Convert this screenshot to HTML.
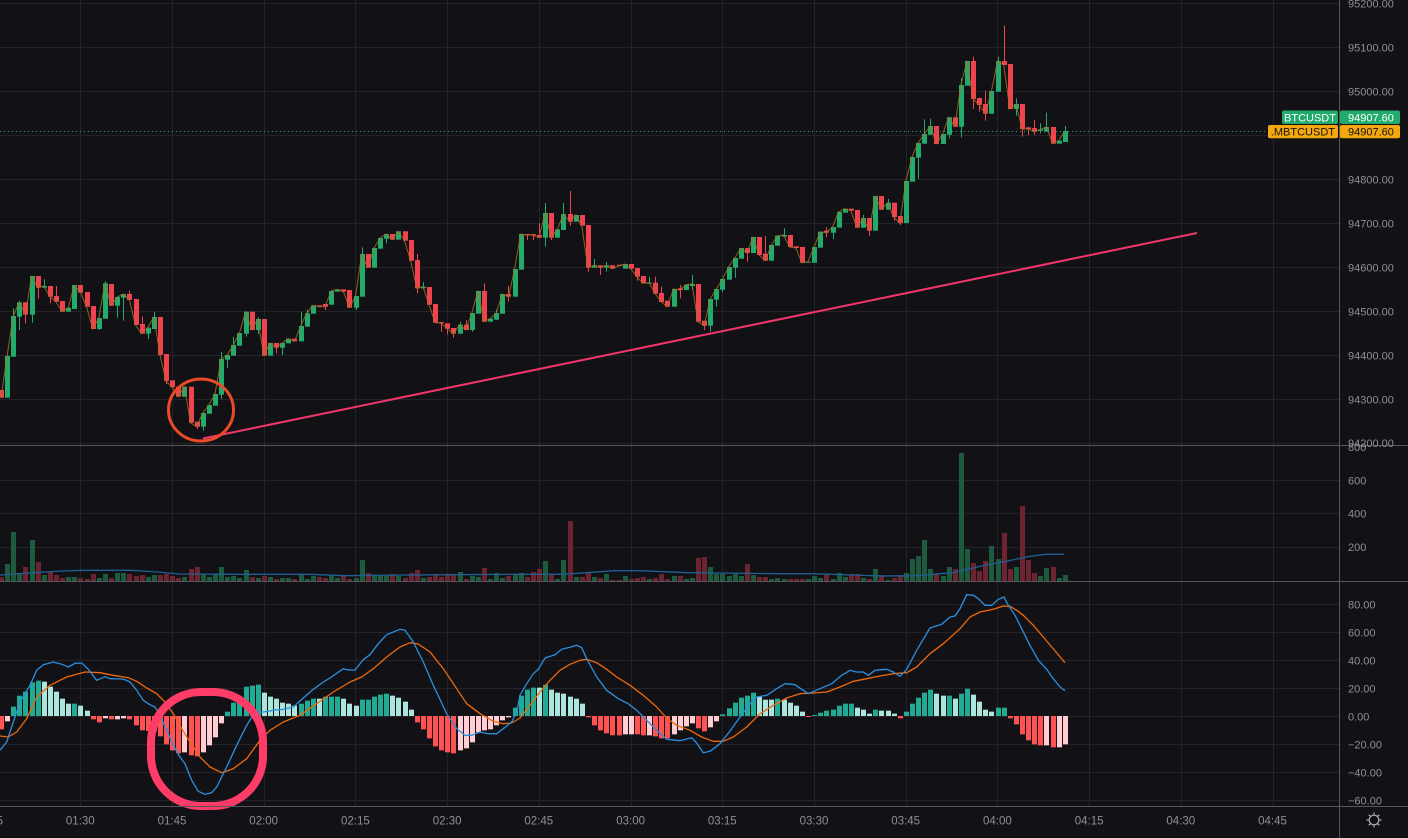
<!DOCTYPE html>
<html>
<head>
<meta charset="utf-8">
<style>
html,body{margin:0;padding:0;background:#121216;}
body{width:1408px;height:838px;overflow:hidden;}
svg{display:block;}
text{font-family:"Liberation Sans",sans-serif;}
</style>
</head>
<body>
<svg id="s" width="1408" height="838" viewBox="0 0 1408 838" xmlns="http://www.w3.org/2000/svg">
<defs>
<clipPath id="cp"><rect x="0" y="0" width="1339" height="445"/></clipPath>
<clipPath id="cv"><rect x="0" y="446" width="1339" height="135"/></clipPath>
<clipPath id="cm"><rect x="0" y="582" width="1339" height="224"/></clipPath>
</defs>
<rect x="0" y="0" width="1408" height="838" fill="#121216"/>
<g id="grid" stroke="#242428" stroke-width="1" fill="none">
<path d="M0 3.5H1339M0 47.5H1339M0 91.5H1339M0 135.5H1339M0 179.5H1339M0 223.5H1339M0 267.5H1339M0 311.5H1339M0 355.5H1339M0 399.5H1339M0 443.5H1339"/>
<path d="M0 480.5H1339M0 513.5H1339M0 547.5H1339"/>
<path d="M0 604.5H1339M0 632.5H1339M0 660.5H1339M0 688.5H1339M0 716.5H1339M0 744.5H1339M0 772.5H1339M0 800.5H1339"/>
</g>
<g id="vgrid" stroke="#242428" stroke-width="1"></g>
<g id="vol" clip-path="url(#cv)"></g>
<g id="hist" clip-path="url(#cm)"></g>
<g id="macd" clip-path="url(#cm)"></g>
<g id="cand" clip-path="url(#cp)"></g>
<!-- last price dotted line -->
<line x1="0" y1="131.5" x2="1339" y2="131.5" stroke="#23a86b" stroke-width="1" stroke-dasharray="1 3"/>
<!-- trendline -->
<line x1="203" y1="438.5" x2="1197" y2="233" stroke="#f2366b" stroke-width="2"/>
<!-- circles -->
<ellipse cx="201" cy="410" rx="32.5" ry="31" fill="none" stroke="#ec4a26" stroke-width="3"/>
<rect x="151" y="692" width="112" height="114" rx="50" ry="50" fill="none" stroke="#ff3c68" stroke-width="8"/>
<!-- separators -->
<g stroke="#56565c" stroke-width="1">
<line x1="0" y1="445.5" x2="1408" y2="445.5"/>
<line x1="0" y1="581.5" x2="1408" y2="581.5"/>
<line x1="0" y1="806.5" x2="1408" y2="806.5"/>
<line x1="1339.5" y1="0" x2="1339.5" y2="838"/>
</g>
<!-- price axis labels -->
<g font-size="11" fill="#8f8f94">
<text x="1348" y="7.5">95200.00</text>
<text x="1348" y="51.5">95100.00</text>
<text x="1348" y="95.5">95000.00</text>
<text x="1348" y="183.5">94800.00</text>
<text x="1348" y="227.5">94700.00</text>
<text x="1348" y="271.5">94600.00</text>
<text x="1348" y="315.5">94500.00</text>
<text x="1348" y="359.5">94400.00</text>
<text x="1348" y="403.5">94300.00</text>
<text x="1348" y="447">94200.00</text>
<text x="1348" y="451">800</text>
<text x="1348" y="484.5">600</text>
<text x="1348" y="517.5">400</text>
<text x="1348" y="551">200</text>
<text x="1348" y="608.5">80.00</text>
<text x="1348" y="636.5">60.00</text>
<text x="1348" y="664.5">40.00</text>
<text x="1348" y="692.5">20.00</text>
<text x="1348" y="720.5">0.00</text>
<text x="1348" y="748.5">−20.00</text>
<text x="1348" y="776.5">−40.00</text>
<text x="1348" y="804.5">−60.00</text>
</g>
<!-- price labels -->
<rect x="1282" y="110.5" width="56" height="13.5" rx="2" fill="#22ab6d"/>
<text x="1310" y="121.3" font-size="11" fill="#ffffff" text-anchor="middle">BTCUSDT</text>
<rect x="1340" y="110.5" width="60" height="13.5" rx="2" fill="#22ab6d"/>
<text x="1348" y="121.3" font-size="11" fill="#ffffff">94907.60</text>
<rect x="1268" y="125" width="70" height="13.3" rx="2" fill="#f5a70f"/>
<text x="1335" y="135.7" font-size="11" fill="#16130c" text-anchor="end">.MBTCUSDT</text>
<rect x="1340" y="125" width="60" height="13.3" rx="2" fill="#f5a70f"/>
<text x="1348" y="135.7" font-size="11" fill="#16130c">94907.60</text>
<!-- time axis -->
<g font-size="11.5" fill="#8f8f94" text-anchor="middle">
<text x="-11.4" y="824.5">01:15</text>
<text x="80.3" y="824.5">01:30</text>
<text x="172" y="824.5">01:45</text>
<text x="263.7" y="824.5">02:00</text>
<text x="355.4" y="824.5">02:15</text>
<text x="447.1" y="824.5">02:30</text>
<text x="538.8" y="824.5">02:45</text>
<text x="630.6" y="824.5">03:00</text>
<text x="722.3" y="824.5">03:15</text>
<text x="814" y="824.5">03:30</text>
<text x="905.7" y="824.5">03:45</text>
<text x="997.4" y="824.5">04:00</text>
<text x="1089.1" y="824.5">04:15</text>
<text x="1180.8" y="824.5">04:30</text>
<text x="1272.5" y="824.5">04:45</text>
</g>
<!-- gear -->
<g stroke="#b0b0b5" stroke-width="1.2" fill="none">
<circle cx="1374" cy="820" r="4.8"/>
<path d="M1374 812.5V814.5M1374 825.5V827.5M1366.5 820H1368.5M1379.5 820H1381.5M1368.7 814.7L1370.1 816.1M1377.9 823.9L1379.3 825.3M1368.7 825.3L1370.1 823.9M1377.9 816.1L1379.3 814.7"/>
</g>
</svg>
<script>
(function(){
var NS='http://www.w3.org/2000/svg';
function el(t,a,p){var e=document.createElementNS(NS,t);for(var k in a)e.setAttribute(k,a[k]);p.appendChild(e);return e;}
var vg=document.getElementById('vgrid');
for(var k=-1;k<=13;k++){var x=80.3+91.71*k;var xx=Math.round(x)+0.5;el('line',{x1:xx,y1:0,x2:xx,y2:806},vg);}
function cx(i){return 1+6.114*i;}
var K=[
[0,390,397.7],[1,356,397.7],[1,316,356.7,308.3],[1,302.3,316.7,300.7,330],[0,302.3,314.7,302.3,323.3],
[1,276,314.7,276,322.7],[0,276,287.7,276,298.7],[1,286,287.7,279.3],[0,286,296.7,286,303.3],[0,296,301.7,286],
[0,301,311.7],[1,307.7,311.7],[1,285,309],[0,285,292.7],[0,292,306.7],
[0,306,329],[1,318,329,318,330],[1,283.3,318.7,281],[0,284,305.7],[1,297,305.7,297,317.7],
[1,294,297.7,294,320.7],[0,294,300,290.7],[0,299,325],[0,324,333.7,316.7],[1,327.7,333.7,327.7,339],
[1,317,329,312],[0,317,355],[0,354,381,354,384],[0,380.3,387.3],[0,386.7,396.7],
[1,386.7,396.7],[0,386.7,422.7],[0,421.7,426.7,421.7,429],[1,413,426.7,413,430.7],[1,405,413.7],
[1,394,405.7],[1,359,394.7,351.7,399],[1,355,359.7,355,367.7],[1,345,355.7,336.7],[1,333,345.7],
[1,311.7,333.7,311.7,336.7],[0,311.7,330],[1,319,330,317.3,334.3],[0,319,355.7],[1,343,355.7],
[0,343,347.7,343,353.3],[1,343,347.7,343,355],[1,338.7,343.3],[0,338.7,341.3],[1,326,341.3,311.7],
[1,313.3,326.7,310],[1,305.3,313.7],[0,305.3,306.7],[0,304,306.7,304,310],[1,291,304.7],
[1,289.3,291.7],[0,289.3,291.7],[0,290,307.7],[1,296,307.7,296,310],[1,254,296.7,247.3],
[0,254,267.7],[1,248,267.7],[1,238,248.7],[1,234,238.7,234,243.3],[0,234,239.7],
[1,231.3,239.7],[0,231.3,240.7],[0,240,260.7],[0,260,288.3,254,293.3],[1,286.7,288.3,282],
[0,287,304.7],[0,304,322.7],[0,322,323.3,322,331.7],[0,323.3,328.7,323.3,334.3],[0,328,333.7,328,337.7],
[1,324.7,333.7,321.7],[0,324.7,330,320],[1,313,330,313,331.7],[1,291,313.7],[0,291,321.7,283.3],
[1,318.7,321.7],[1,313,319.7,309.3],[1,294,313.7],[0,294,296.7,286,301.7],[1,269,296.7],
[1,234,269.7],[0,234,235,234,240],[0,234,235.3,234,240],[0,235,237.7,223.3],[1,213,237.7,203,246.7],
[0,213,237.7,213,240],[1,229.3,237.7],[1,214,230,203],[0,214,221.7,191,225.7],[1,215,221.7],
[0,215,225.7],[0,225,267.7,225,271.7],[1,265.3,267.7,259],[0,265.3,267.7,265.3,275],[1,265.3,267.7,262,271.7],
[0,265.3,268.7],[0,264.7,266],[1,264,268.7],[0,264,268.7],[0,268,276.7,268,280.7],
[0,276,283.3],[1,282.7,283.3,276.7],[0,282.7,293.7,276.7],[0,293,302,286.7],[0,300.7,306.7],
[1,289,306.7],[0,288.3,290,285,298.3],[1,284.7,290],[1,284,286,275,290],[0,284,321.7],
[0,320.7,325.7,320.7,330],[1,299,325.7,299,331.7],[1,289,299.7,289,306.7],[1,279,289.7,279,292.3],[1,267,279.7],
[1,258,267.7,258,277.7],[1,248,258.7],[0,248,253,248,261.7],[1,237,253],[0,237,255],
[0,253.7,260.7,236],[1,245,260.7],[1,235.7,245.7],[1,235,236.7,228.3],[0,235,247],
[0,246.3,248],[0,247,262.7],[1,261.7,262.7],[1,247,262.7],[1,231.7,247.7],
[0,230.7,232.7,227.3,237.3],[1,227,232.7,227,239.3],[1,212,227.7],[1,208.7,212.7],[0,208.7,210.7],
[0,210,227.7],[1,218,227.7,215],[0,218,230.7,218,235.7],[1,196,230.7],[0,196,209.7],
[1,202.7,209.7,199],[0,202.7,217,202.7,220.7],[0,216,223,216,225],[1,181,223],[1,157,181.7],
[1,143,157.7,143,178.7],[1,134,143.7,119.3],[1,126,134.7,118.7],[0,126,144],[1,134,144],
[1,117.3,134.7,117.3,138.3],[0,117.3,126.7],[1,85,126.7,78.3,137.3],[1,61,85.7],[0,61,99,56.7,109],
[0,98,105,98,111.7],[0,104,113.7,90.7,120.7],[1,91,113.7],[1,61,91.7,56.7],[0,61,65,25.7],
[0,64,109],[1,104,109,98.3,115.7],[0,104,129,104,136.7],[0,127.3,129,127.3,135],[0,128,131.7,120,135],
[1,129.5,131,123.3,133.3],[1,127,131.7,112.7],[0,127,143.7],[1,140.7,143.7],[1,131,142,126]
];
var V=[3.7,17,49,8,14,41,19,6,9,6,
3,4,4,3,2,7,3,7,3,8,
8,7,5,6,4,6,6,7,5,3,
4,12,14,7,4,7,14,4,5,3,
11,4,3,5,4,2,3,3,2,6,
2,5,4,3,6,3,5,2,3,21,
8,6,5,6,7,5,3,8,11,3,
4,7,4,7,6,9,2,5,4,13,
2,8,3,5,6,8,4,9,12,
20,6,2,21,60,4,4,8,4,3,7,
1,1,5,2,3,4,2,3,7,2,
5,5,2,3,23,24,14,7,7,5,
7,5,17,6,4,4,2,3,2,2,
2,2,2,5,3,7,2,8,4,7,
7,3,2,12,6,1,3,5,8,22,
25,41,12,7,5,14,12,128,32,18,
10,20,35,22,48,12,14,75,21,8,
5,13,14,3,6];
var H=[-40,-16,28,61,73,101,106,103,88,73,
52,37,37,31,16,-10,-19,-7,-10,-10,
-7,-10,-28,-43,-45,-46,-61,-85,-103,-112,
-109,-118,-121,-109,-88,-64,-22,13,40,40,
88,91,94,70,58,52,40,37,31,37,
46,52,52,58,58,58,52,37,31,49,
49,58,64,67,61,55,43,19,-19,-40,
-67,-91,-103,-109,-112,-103,-97,-79,-49,-43,
-40,-28,-13,-4,25,61,79,85,85,94,
79,70,67,58,52,37,-4,-28,-43,-52,
-58,-58,-55,-55,-55,-58,-58,-61,-67,-67,
-55,-43,-31,-22,-37,-46,-34,-16,5,23,
40,55,61,70,58,49,49,52,49,40,
31,13,-3,3,10,16,19,31,37,37,
25,19,7,19,16,16,7,-7,13,37,
55,70,79,67,61,61,52,67,82,64,
43,19,13,25,25,-7,-25,-55,-73,-85,
-88,-88,-94,-94,-85];
var S="R"+"P"+"DDDDD"+"LLLLL"+"D"+"LL"+"RR"+"P"+"R"+"PP"+"RRRRRRRRR"+"P"+"RR"+"PPPP"+"DDDDDD"+"LLLLLL"+"DDD"+"L"+"DDD"+"LLL"+"DDDDD"+"LLLL"+"RRRRRRR"+"PPPPPPPPP"+"DDDD"+"L"+"D"+"LLLLLL"+"RRRRRR"+"PP"+"RR"+"P"+"RRR"+"PPPP"+"RR"+"PP"+"DDDDDD"+"LLL"+"D"+"LLLL"+"R"+"DDDDDDD"+"LLL"+"D"+"LLL"+"R"+"DDDDD"+"LL"+"D"+"L"+"DD"+"LLLL"+"DD"+"RRRRRR"+"P"+"R"+"PP";
var HC={D:'#22ab94',L:'#ace5dc',R:'#ff5252',P:'#ffcdd2'};
var G='#22ab6d',Rd='#f0434f';
var vol=document.getElementById('vol'),hist=document.getElementById('hist'),cand=document.getElementById('cand');
// volume
for(var i=0;i<V.length;i++){
  var c=Math.round(cx(i));var g=K[i]?K[i][0]:1;var h=V[i];
  el('rect',{x:c-2,y:581-h,width:5,height:h,fill:g?'#1d5b3f':'#6d2431'},vol);
}
// volume MA
var vm=[[0,575],[34,572.7],[62,571],[83,570.3],[131,570.3],[158,572],[179,574],[241,574.3],[310,574.3],[344,575.7],[379,575.3],[448,574.7],[517,574.3],[539,574.3],[563,574.3],[615,570.7],[639,570.7],[688,572.7],[778,573.7],[813,573.7],[882,576],[917,575.7],[952,572.7],[986,565],[1004,561.7],[1028,556.7],[1045,554.3],[1064,554.3]];
el('polyline',{points:vm.map(function(p){return p.join(',');}).join(' '),fill:'none',stroke:'#1f5f94',"stroke-width":1.3},vol);
// histogram
for(var i=0;i<H.length;i++){
  var c=Math.round(cx(i));var v=H[i]/3;var col=HC[S.charAt(i)]||'#22ab94';
  if(v>=0){el('rect',{x:c-2,y:716-v,width:5,height:Math.max(v,1),fill:col},hist);}
  else{el('rect',{x:c-2,y:716,width:5,height:-v,fill:col},hist);}
}
// MACD lines
var macd=document.getElementById('macd');
function conv(arr,ox){return arr.map(function(p){return (ox+p[0]/3).toFixed(1)+','+(582+p[1]/3).toFixed(1);});}
var b9=[[0,505],[20,480],[40,420],[60,360],[90,310],[110,265],[130,248],[160,240],[185,247],[205,255],[225,244],[245,243],[265,262],[290,295],[315,284],[330,290],[370,291],[390,300],[410,325],[430,355],[450,368],[465,375],[480,400],[500,445],[520,490],[540,525],[555,545],[575,595],[595,628],[615,637],[635,632],[650,615],[680,555],[710,490],[740,430],[765,390],[790,390],[820,385],[850,382],[880,375],[910,348],[940,322],[970,300],[990,288],[1030,260],[1045,264],[1065,264],[1090,233],[1110,218],[1135,185],[1160,158],[1200,142],[1215,145],[1240,180],[1270,240],[1300,310],[1340,395],[1370,440],[1395,460],[1415,460],[1440,450],[1465,455],[1490,455],[1510,440],[1535,420],[1550,390]];
var b10=[[0,340],[20,305],[40,275],[55,262],[75,228],[105,218],[125,202],[150,196],[170,190],[185,197],[200,230],[230,285],[260,325],[295,350],[325,365],[350,385],[380,415],[410,445],[440,472],[480,476],[515,467],[530,483],[550,512],[570,508],[600,485],[630,447],[660,405],[690,365],[710,345],[740,340],[770,320],[795,305],[825,308],[845,322],[865,335],[900,320],[935,305],[965,280],[990,265],[1010,270],[1030,270],[1045,280],[1065,265],[1100,262],[1120,270],[1140,283],[1160,262],[1190,205],[1230,138],[1265,127],[1290,105],[1305,102],[1320,80],[1340,38],[1360,40],[1375,50],[1395,70]];
var b11=[[35,70],[55,52],[72,45],[85,70],[105,100],[125,140],[150,190],[175,235],[200,262],[220,290],[240,315],[255,326]];
var o9=[[0,462],[25,465],[50,450],[80,410],[110,345],[150,310],[200,285],[255,270],[300,272],[340,280],[385,287],[410,298],[440,318],[470,335],[495,360],[520,395],[545,440],[570,480],[600,525],[630,555],[665,572],[700,560],[740,530],[780,475],[810,445],[850,420],[900,400],[950,365],[1000,330],[1050,300],[1085,285],[1120,260],[1160,225],[1200,195],[1230,182],[1255,186],[1290,210],[1330,260],[1370,320],[1400,365],[1440,395],[1480,418],[1510,425],[1535,423]];
var o10=[[0,408],[30,370],[60,330],[90,295],[120,265],[150,247],[180,235],[200,232],[230,242],[260,262],[290,285],[330,310],[370,340],[410,375],[440,408],[470,430],[510,445],[545,465],[580,478],[610,478],[640,465],[680,435],[720,395],[760,370],[800,348],[840,335],[880,333],[920,330],[960,315],[1000,298],[1040,290],[1080,282],[1120,275],[1160,272],[1190,255],[1230,215],[1270,185],[1320,140],[1350,105],[1380,90]];
var o11=[[40,82],[70,72],[90,73],[110,85],[130,100],[160,130],[190,165],[215,195],[255,242]];
var op=conv(o9,0).concat(conv(o10,520),conv(o11,980));
var bp=conv(b9,0).concat(conv(b10,520),conv(b11,980));
el('polyline',{points:op.join(' '),fill:'none',stroke:'#f0680a',"stroke-width":1.3,"stroke-linejoin":"round"},macd);
el('polyline',{points:bp.join(' '),fill:'none',stroke:'#2a8fe0',"stroke-width":1.3,"stroke-linejoin":"round"},macd);
// candles
var ma=[];
for(var i=0;i<K.length;i++){
  var d=K[i];var c=Math.round(cx(i));var col=d[0]?G:Rd;
  var top=d[1],bot=d[2];var wt=(d[3]!==undefined)?d[3]:top;var wb=(d[4]!==undefined)?d[4]:bot;
  if(wt<top||wb>bot){el('rect',{x:c,y:wt,width:1,height:wb-wt,fill:col},cand);}
  el('rect',{x:c-2,y:top,width:5,height:Math.max(bot-top,1),fill:col},cand);
  ma.push(cx(i).toFixed(1)+','+(d[0]?top:bot));
}
el('polyline',{points:ma.join(' '),fill:'none',stroke:'#a5701f',"stroke-width":1,"stroke-opacity":0.85,"stroke-linejoin":"round"},cand);
})();
</script>
</body>
</html>
